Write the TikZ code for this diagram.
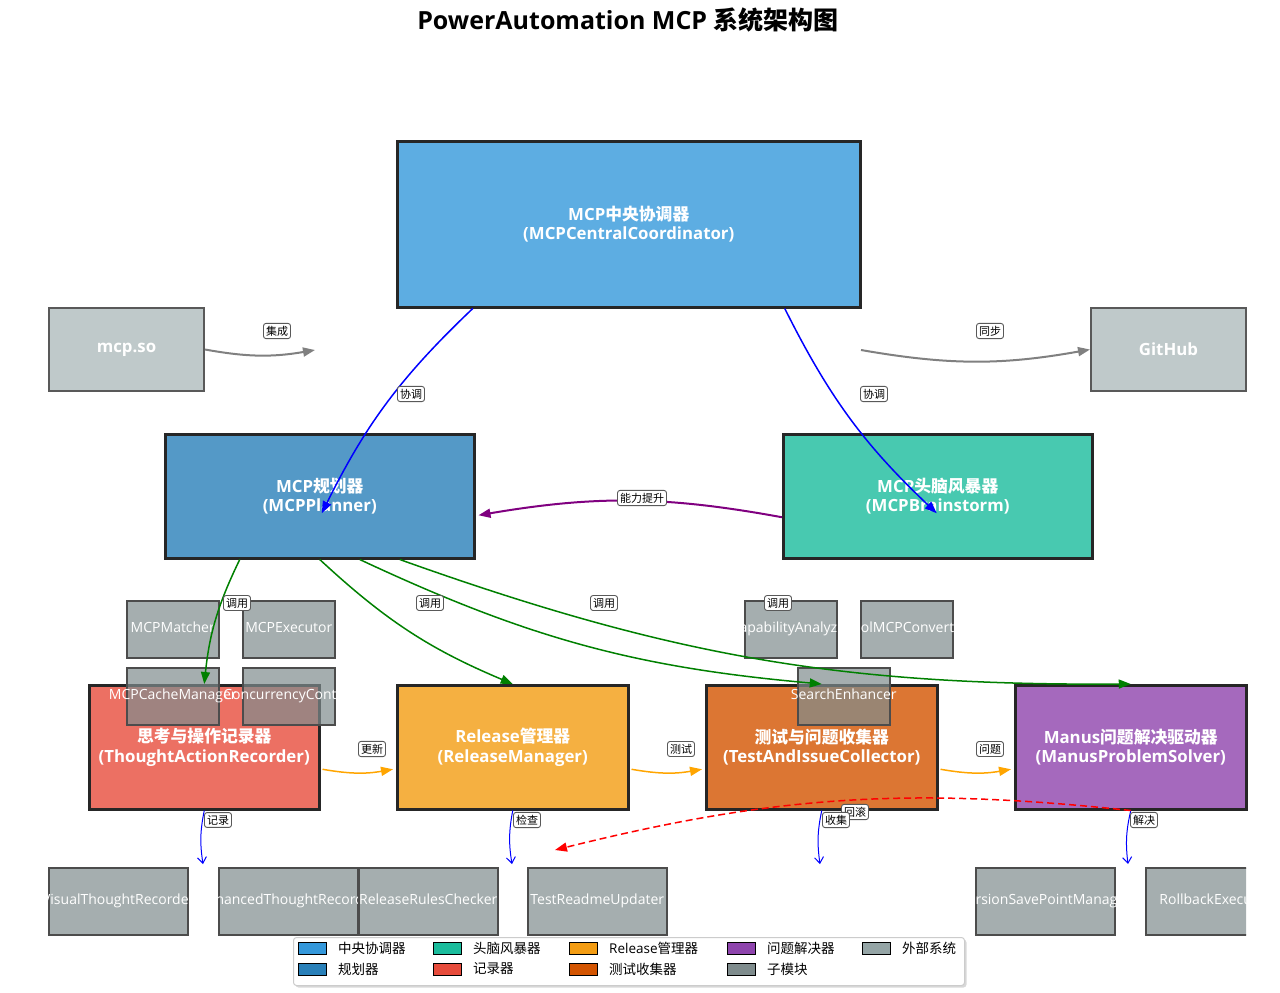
\documentclass[tikz,border=0pt]{standalone}
\usepackage{fontspec}
\setmainfont{Open Sans}
\newfontfamily\cjk{Noto Sans CJK SC}
\usetikzlibrary{positioning,arrows.meta,shadows}

\definecolor{coordblue}{HTML}{3498DB}
\definecolor{planblue}{HTML}{2980B9}
\definecolor{stormgreen}{HTML}{1ABC9C}
\definecolor{recred}{HTML}{E74C3C}
\definecolor{relorange}{HTML}{F39C12}
\definecolor{testorange}{HTML}{D35400}
\definecolor{manuspurple}{HTML}{8E44AD}
\definecolor{extgray}{HTML}{95A5A6}
\definecolor{subgray}{HTML}{7F8C8D}
\definecolor{callgreen}{HTML}{008000}
\definecolor{liftpurple}{HTML}{800080}
\definecolor{flowyellow}{HTML}{FFA500}

\tikzset{
  mainbox/.style={draw=black!85, line width=2.5pt, fill opacity=0.8, text opacity=1, text=white,
    align=center, inner sep=0pt, anchor=north west, font=\bfseries\fontsize{16.8}{19.5}\selectfont},
  extbox/.style={mainbox, draw=black!65, line width=2pt, fill=extgray, fill opacity=0.6,
    minimum width=155pt, minimum height=83pt},
  subbox/.style={draw=black!70, line width=1.5pt, fill=subgray, fill opacity=0.7, text opacity=1,
    text=white, inner sep=0pt, anchor=north west, text height=10.5pt, text depth=3.5pt,
    font=\fontsize{14}{17}\selectfont},
  tag/.style={draw=black!65, fill=white, rounded corners=2.5pt, line width=0.9pt, inner sep=2.5pt,
    font=\cjk\fontsize{11}{12}\selectfont},
  link/.style={line width=1.5pt, -{Triangle[length=12pt,width=9pt]}},
  drop/.style={blue, line width=1pt, -{Straight Barb[length=6pt,width=9pt]}},
  legpatch/.style={draw=black, line width=1pt, minimum width=28pt, minimum height=12pt,
    inner sep=0pt, anchor=west},
  legtext/.style={inner sep=0pt, font=\fontsize{13.5}{16}\selectfont},
}

\begin{document}
\begin{tikzpicture}[x=1pt, y=-1pt]
\useasboundingbox (0,0) rectangle (1280,993);

% title
\node[font=\bfseries\fontsize{25}{29}\selectfont] (title) at (628,20) {PowerAutomation MCP {\cjk 系统架构图}};

% main components
\node[mainbox, fill=coordblue, minimum width=463pt, minimum height=166pt] (coord) at (396,140)
  {MCP{\cjk 中央协调器}\\(MCPCentralCoordinator)};
\node[extbox] (mcpso) at (48,307) {mcp.so};
\node[extbox] (github) at (1090,307) {GitHub};
\node[mainbox, fill=planblue, minimum width=309pt, minimum height=124pt] (planner) at (164,433)
  {MCP{\cjk 规划器}\\(MCPPlanner)};
\node[mainbox, fill=stormgreen, minimum width=309pt, minimum height=124pt] (storm) at (782,433)
  {MCP{\cjk 头脑风暴器}\\(MCPBrainstorm)};
\node[mainbox, fill=recred, minimum width=230pt, minimum height=124pt] (recorder) at (88,684)
  {{\cjk 思考与操作记录器}\\(ThoughtActionRecorder)};
\node[mainbox, fill=relorange, minimum width=231pt, minimum height=124pt] (release) at (396,684)
  {Release{\cjk 管理器}\\(ReleaseManager)};
\node[mainbox, fill=testorange, minimum width=231pt, minimum height=124pt] (tester) at (705,684)
  {{\cjk 测试与问题收集器}\\(TestAndIssueCollector)};
\node[mainbox, fill=manuspurple, minimum width=231pt, minimum height=124pt] (manus) at (1014,684)
  {Manus{\cjk 问题解决驱动器}\\(ManusProblemSolver)};

% submodules
\foreach \sub/\x/\y in {MCPMatcher/126/600, MCPExecutor/242/600, MCPCacheManager/126/667,
    ConcurrencyControl/242/667, CapabilityAnalyzer/744/600, ToolMCPConverter/860/600,
    SearchEnhancer/797/667}
  \node[subbox, minimum width=92pt, minimum height=57pt] (\sub) at (\x,\y) {\makebox[0pt]{\sub}};
\foreach \sub/\x in {VisualThoughtRecorder/48, EnhancedThoughtRecorder/218,
    ReleaseRulesChecker/358, TestReadmeUpdater/527, VersionSavePointManager/975}
  \node[subbox, minimum width=139pt, minimum height=67pt] (\sub) at (\x,867) {\makebox[0pt]{\sub}};
\begin{scope}
  \clip (0,0) rectangle (1246,993);
  \node[subbox, minimum width=139pt, minimum height=67pt] (RollbackExecutor) at (1145,867)
    {\makebox[0pt]{RollbackExecutor}};
\end{scope}

% free ends
\coordinate (mcpin) at (315,350);
\coordinate (ghout) at (861,350);
\coordinate (recout) at (203,864);
\coordinate (relout) at (512,864);
\coordinate (testout) at (820,864);
\coordinate (manusout) at (1128,864);
\coordinate (rollin) at (555,850);

% connectors
\draw[link, gray, line width=2pt, bend right=10] (mcpso.east) to (mcpin);
\draw[link, gray, line width=2pt, bend right=10] (ghout) to (github.west);
\draw[link, blue, bend right=10] ([xshift=-156pt]coord.south) to ([shift={(2,17)}]planner.center);
\draw[link, blue, bend right=10] ([xshift=156pt]coord.south) to ([shift={(-1,17)}]storm.center);
\draw[link, liftpurple, line width=2pt, bend right=10] ([shift={(0,21)}]storm.west) to ([shift={(3,19)}]planner.east);
\draw[link, callgreen, bend right=10] ([xshift=-80pt]planner.south) to (recorder.north);
\draw[link, callgreen, bend right=10] (planner.south) to (release.north);
\draw[link, callgreen, bend right=10] ([xshift=40pt]planner.south) to (tester.north);
\draw[link, callgreen, bend right=10] ([xshift=80pt]planner.south) to (manus.north);
\draw[link, flowyellow, bend right=10] ([shift={(2,22)}]recorder.east) to ([shift={(-3,22)}]release.west);
\draw[link, flowyellow, bend right=10] ([shift={(2,22)}]release.east) to ([shift={(-3,22)}]tester.west);
\draw[link, flowyellow, bend right=10] ([shift={(2,22)}]tester.east) to ([shift={(-3,22)}]manus.west);
\draw[drop, bend right=10] (recorder.south) to (recout);
\draw[drop, bend right=10] (release.south) to (relout);
\draw[drop, bend right=10] (tester.south) to (testout);
\draw[drop, bend right=10] (manus.south) to (manusout);
\draw[link, red, dash pattern=on 7pt off 4pt, bend right=10] (manus.south) to (rollin);

% connector labels
\node[tag] (l-join) at (277,331) {集成};
\node[tag] (l-sync) at (990,331) {同步};
\node[tag] (l-coplan) at (411,394) {协调};
\node[tag] (l-costorm) at (874,394) {协调};
\node[tag] (l-lift) at (642,498) {能力提升};
\node[tag] (l-callrec) at (237,603) {调用};
\node[tag] (l-callrel) at (430,603) {调用};
\node[tag] (l-calltest) at (604,603) {调用};
\node[tag] (l-callmanus) at (778,603) {调用};
\node[tag] (l-update) at (372,749) {更新};
\node[tag] (l-test) at (681,749) {测试};
\node[tag] (l-issue) at (990,749) {问题};
\node[tag] (l-log) at (218,820) {记录};
\node[tag] (l-check) at (527,820) {检查};
\node[tag] (l-roll) at (855,812) {回滚};
\node[tag] (l-collect) at (836,820) {收集};
\node[tag] (l-solve) at (1144,820) {解决};

% legend
\node[draw=black!20, fill=white, rounded corners=3pt, line width=1pt, inner sep=0pt, anchor=north west,
  minimum width=671pt, minimum height=48pt,
  drop shadow={shadow xshift=2pt, shadow yshift=-2pt, fill=black!30}] (legend) at (293,937) {};
\foreach \c/\lbl/\x/\y in {coordblue/{\cjk 中央协调器}/298/948, stormgreen/{\cjk 头脑风暴器}/433/948,
    relorange/Release{\cjk 管理器}/569/948, manuspurple/{\cjk 问题解决器}/727/948,
    extgray/{\cjk 外部系统}/862/948, planblue/{\cjk 规划器}/298/969, recred/{\cjk 记录器}/433/969,
    testorange/{\cjk 测试收集器}/569/969, subgray/{\cjk 子模块}/727/969}
{
  \node[legpatch, fill=\c] (patch-\x-\y) at (\x,\y) {};
  \node[legtext, right=11pt of patch-\x-\y] (text-\x-\y) {\lbl};
}
\end{tikzpicture}
\end{document}
